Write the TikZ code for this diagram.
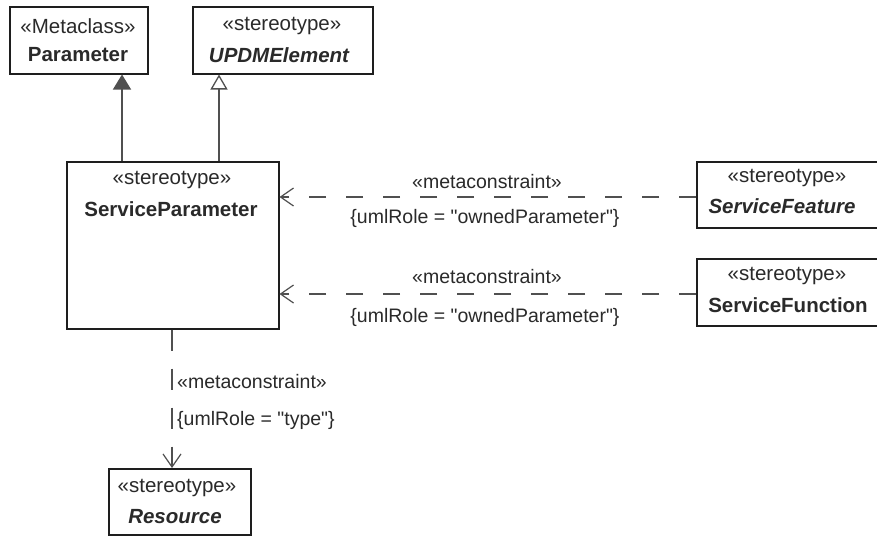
\documentclass[tikz,border=0pt]{standalone}
\usepackage{fontspec}
\setmainfont{Liberation Sans}[Ligatures=TeXOff]
\usetikzlibrary{arrows.meta}
\definecolor{txt}{HTML}{2A2A2A}
\definecolor{ln}{HTML}{505050}
\definecolor{bx}{HTML}{1E1E1E}
\begin{document}
\begin{tikzpicture}[x=1pt,y=-1pt,
  box/.style={draw=bx, line width=1.5pt, inner sep=0pt, anchor=north west},
  st/.style={text=txt, font=\fontsize{20.5}{24}\selectfont, inner sep=0pt},
  nm/.style={text=txt, font=\fontsize{20.5}{24}\selectfont\bfseries, inner sep=0pt},
  nmi/.style={text=txt, font=\fontsize{20.5}{24}\selectfont\bfseries\itshape, inner sep=0pt},
  lbl/.style={text=txt, font=\fontsize{19.5}{22}\selectfont, inner sep=0pt},
  gen/.style={draw=ln, line width=1.3pt},
  dep/.style={draw=ln, line width=1.2pt, dash pattern=on 17pt off 20pt,
    -{Straight Barb[length=13pt,width=18pt,line width=1.2pt]}},
]
\useasboundingbox (0,0) rectangle (877,536);
\fill[white] (0,0) rectangle (877,536);

% boxes
\node[box, minimum width=138pt, minimum height=67pt] (param) at (9,6) {};
\node[st] (paramS) at (78,26) {«Metaclass»};
\node[nm] (paramN) at (78,55) {Parameter};

\node[box, minimum width=180pt, minimum height=67pt] (updm) at (192,6) {};
\node[st] (updmS) at (282,26) {«stereotype»};
\node[nmi] (updmN) at (279,55) {UPDMElement};

\node[box, minimum width=212pt, minimum height=167pt] (sp) at (66,161) {};
\node[st] (spS) at (172,180) {«stereotype»};
\node[nm] (spN) at (171,209) {ServiceParameter};

\node[box, minimum width=181pt, minimum height=66pt] (sf) at (696,161) {};
\node[st] (sfS) at (787,178) {«stereotype»};
\node[nmi] (sfN) at (782,206) {ServiceFeature};

\node[box, minimum width=181pt, minimum height=67pt] (sfn) at (696,258) {};
\node[st] (sfnS) at (787,276) {«stereotype»};
\node[nm] (sfnN) at (788,305) {ServiceFunction};

\node[box, minimum width=142pt, minimum height=66pt] (res) at (108,468) {};
\node[st] (resS) at (177,488) {«stereotype»};
\node[nmi] (resN) at (175,517) {Resource};

% generalizations
\draw[gen, -{Triangle[length=15pt,width=18pt,fill=ln]}] (sp.north -| 122,0) -- (param.south -| 122,0);
\draw[gen, -{Triangle[open,length=15pt,width=17pt,fill=white]}] (sp.north -| 219,0) -- (updm.south -| 219,0);

% dependencies
\draw[dep] (sf.west |- 0,197) -- (sp.east |- 0,197);
\node[lbl] (m1) at (487,182) {«metaconstraint»};
\node[lbl] (r1) at (485,218) {\{umlRole = "ownedParameter"\}};

\draw[dep] (sfn.west |- 0,294) -- (sp.east |- 0,294);
\node[lbl] (m2) at (487,277) {«metaconstraint»};
\node[lbl] (r2) at (485,317) {\{umlRole = "ownedParameter"\}};

\draw[dep, dash pattern=on 21pt off 18pt] (sp.south -| 172,0) -- (res.north -| 172,0);
\node[lbl, anchor=west] (m3) at (177,382) {«metaconstraint»};
\node[lbl, anchor=west] (r3) at (177,420) {\{umlRole = "type"\}};
\end{tikzpicture}
\end{document}
